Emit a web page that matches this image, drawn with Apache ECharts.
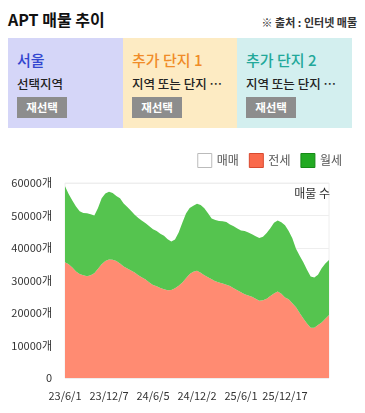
<!DOCTYPE html>
<html>
<head>
<meta charset="utf-8">
<script src="https://cdn.jsdelivr.net/npm/echarts@6/dist/echarts.min.js"></script>
<style>
  body { margin: 0; background: #fff; font-family: "Noto Sans CJK KR", sans-serif; }
  #page { position: relative; width: 365px; height: 413px; overflow: hidden; }
  .title { position: absolute; left: 8px; top: 7px; font-size: 16px; font-weight: bold; color: #111; }
  .source { position: absolute; right: 8px; top: 14px; font-size: 11px; font-weight: bold; color: #333; }
  .panel { position: absolute; top: 38px; height: 90px; width: 115px; }
  .panel .name { position: absolute; left: 9px; top: 11px; font-size: 15px; font-weight: 500; }
  .panel .sub { position: absolute; left: 9px; top: 36px; font-size: 12.5px; font-weight: 500; color: #222; white-space: nowrap; }
  .panel .btn { position: absolute; left: 9px; top: 59px; width: 50px; height: 21px; line-height: 21px; text-align: center;
    background: #8d8d8d; color: #fff; font-size: 11.5px; font-weight: bold; }
  #chart { position: absolute; left: 0; top: 140px; width: 365px; height: 273px; }
</style>
</head>
<body>
<div id="page">
  <div class="title">APT 매물 추이</div>
  <div class="source">※ 출처 : 인터넷 매물</div>
  <div class="panel" style="left:8px;background:#d5d6f8;">
    <div class="name" style="color:#3347d0;">서울</div>
    <div class="sub">선택지역</div>
    <div class="btn">재선택</div>
  </div>
  <div class="panel" style="left:123px;background:#fdebc3;">
    <div class="name" style="color:#f08c28;">추가 단지 1</div>
    <div class="sub">지역 또는 단지 ⋯</div>
    <div class="btn">재선택</div>
  </div>
  <div class="panel" style="left:237px;background:#d3efef;">
    <div class="name" style="color:#22a89a;">추가 단지 2</div>
    <div class="sub">지역 또는 단지 ⋯</div>
    <div class="btn">재선택</div>
  </div>
  <div id="chart"></div>
</div>
<script>
const dates = [
  '23/6/1', '23/6/17', '23/7/2', '23/7/18', '23/8/3', '23/8/18', '23/9/3', '23/9/19', '23/10/4', '23/10/20', '23/11/5', '23/11/21',
  '23/12/7', '23/12/22', '24/1/7', '24/1/22', '24/2/6', '24/2/21', '24/3/7', '24/3/22', '24/4/6', '24/4/21', '24/5/6', '24/5/21',
  '24/6/5', '24/6/20', '24/7/5', '24/7/20', '24/8/4', '24/8/19', '24/9/3', '24/9/18', '24/10/3', '24/10/18', '24/11/2', '24/11/17',
  '24/12/2', '24/12/17', '25/1/1', '25/1/16', '25/1/31', '25/2/15', '25/3/2', '25/3/17', '25/4/1', '25/4/16', '25/5/1', '25/5/16',
  '25/6/1', '25/6/17', '25/7/4', '25/7/20', '25/8/6', '25/8/22', '25/9/8', '25/9/24', '25/10/10', '25/10/27', '25/11/13', '25/11/30',
  '25/12/17', '26/1/1', '26/1/16', '26/1/31', '26/2/15', '26/3/2', '26/3/17', '26/4/1', '26/4/16', '26/5/1', '26/5/16', '26/5/31',
  '26/6/15'
]
// 전세
const jeonse = [
  35600, 35000, 34000, 32800, 32000, 31600, 31300, 31600, 32200, 33600, 35000, 36000,
  36500, 36400, 36000, 35200, 34300, 33700, 33100, 32500, 31600, 30900, 30300, 29400,
  28600, 28200, 27700, 27300, 27000, 27100, 27600, 28400, 29400, 30700, 32000, 32700,
  33000, 32400, 31600, 31000, 30400, 29800, 29400, 29100, 28700, 28300, 27600, 27000,
  26400, 25800, 25400, 25000, 24400, 23800, 23900, 24400, 25200, 26000, 26600, 25900,
  24800, 24200, 23000, 21800, 20000, 18300, 16800, 15500, 15500, 16300, 17100, 18200,
  19400
]
// 월세
const wolse = [
  23400, 21600, 20600, 20000, 19300, 19200, 19400, 18800, 17800, 18700, 20300, 20800,
  20800, 20500, 20000, 20100, 19400, 18900, 18400, 17700, 17600, 17500, 17300, 17300,
  17200, 17000, 16700, 16500, 15700, 14900, 15000, 16400, 18400, 19900, 20300, 20300,
  20600, 20800, 20600, 19700, 18700, 18800, 18900, 19100, 19300, 18900, 19100, 19000,
  19000, 19400, 19400, 19200, 19200, 19300, 19600, 20200, 20900, 21800, 21900, 22000,
  22200, 21000, 20000, 18000, 17600, 17300, 16500, 15700, 15400, 15500, 16700, 17000,
  16900
]
const seriesNames = ['매매', '전세', '월세']

const chart = echarts.init(document.getElementById('chart'))
const font = '"Noto Sans CJK KR", sans-serif'

const option = {
  animation: false,
  textStyle: { fontFamily: font },
  legend: {
    top: 8,
    right: 18,
    icon: 'rect',
    itemWidth: 14,
    itemHeight: 14,
    itemGap: 10,
    textStyle: { fontSize: 12, color: '#555', fontFamily: font },
    data: [
      { name: seriesNames[0], itemStyle: { color: '#fff', borderColor: '#bbb', borderWidth: 1 } },
      { name: seriesNames[1], itemStyle: { color: '#fa6a4c', borderColor: '#d84a30', borderWidth: 1 } },
      { name: seriesNames[2], itemStyle: { color: '#22aa22', borderColor: '#168a16', borderWidth: 1 } }
    ]
  },
  grid: {
    left: 65,
    right: 36,
    top: 43,
    bottom: 35,
    show: true,
    borderColor: '#eee',
    borderWidth: 1
  },
  graphic: [{
    type: 'text',
    right: 35,
    top: 47,
    style: { text: '매물 수', fontSize: 12, fill: '#333', fontFamily: font }
  }],
  xAxis: {
    type: 'category',
    boundaryGap: false,
    data: dates,
    axisLine: { show: false },
    axisTick: { show: false },
    axisLabel: {
      interval: function (index) { return index % 12 === 0 && index < 72 },
      color: '#333',
      fontSize: 11,
      margin: 12,
      fontFamily: font
    }
  },
  yAxis: {
    type: 'value',
    min: 0,
    max: 60000,
    interval: 10000,
    axisLabel: {
      color: '#333',
      fontSize: 11,
      margin: 13,
      fontFamily: font,
      formatter: v => v === 0 ? '0' : v + '개'
    },
    splitLine: { lineStyle: { color: '#eee' } }
  },
  series: [
    {
      name: seriesNames[0],
      type: 'line',
      data: [],
      itemStyle: { color: '#fff' }
    },
    {
      name: seriesNames[1],
      type: 'line',
      stack: 'total',
      symbol: 'none',
      data: jeonse,
      itemStyle: { color: '#fa6a4c' },
      lineStyle: { width: 0 },
      areaStyle: { color: '#ff8b72', opacity: 1 }
    },
    {
      name: seriesNames[2],
      type: 'line',
      stack: 'total',
      symbol: 'none',
      data: wolse,
      itemStyle: { color: '#22aa22' },
      lineStyle: { width: 0 },
      areaStyle: { color: '#55c44f', opacity: 1 }
    }
  ]
}

option && chart.setOption(option)
</script>
</body>
</html>
